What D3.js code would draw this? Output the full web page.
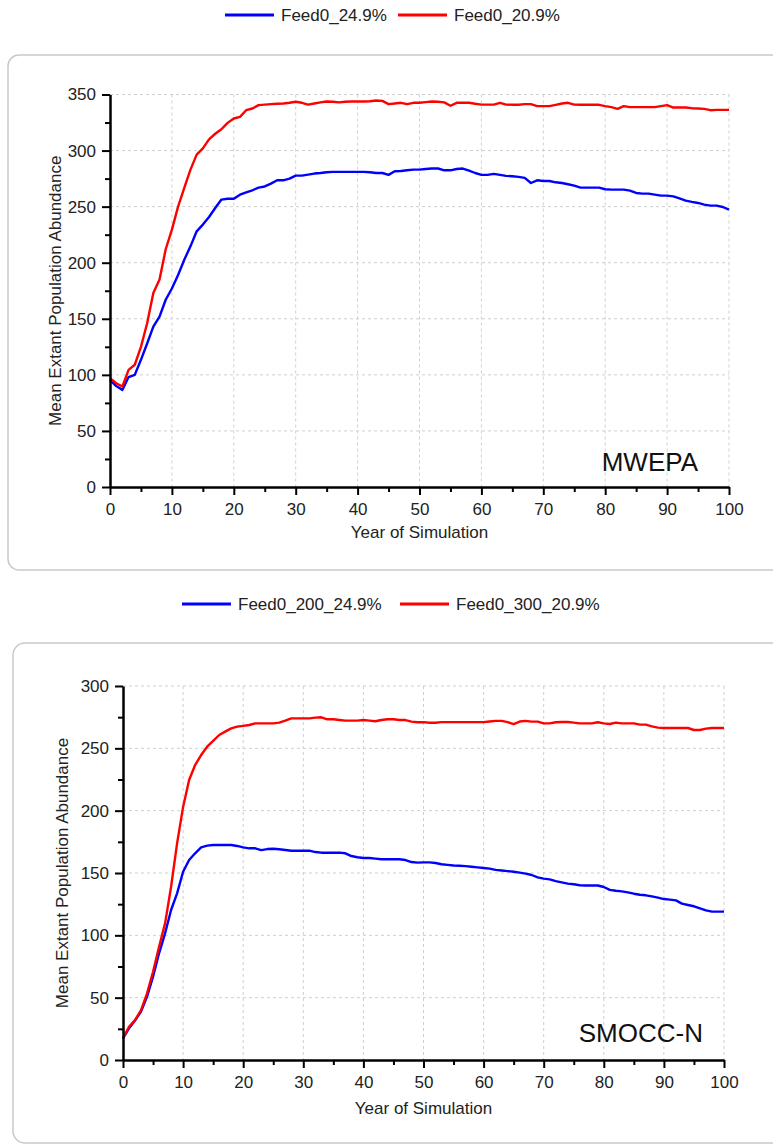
<!DOCTYPE html>
<html>
<head>
<meta charset="utf-8">
<script src="https://cdn.jsdelivr.net/npm/d3@7"></script>
<style>
  body { margin: 0; background: #ffffff; }
  svg { display: block; font-family: "Liberation Sans", Arial, sans-serif; }
</style>
</head>
<body>
<svg id="chart" width="773" height="1145"></svg>
<script>
// Simulation years shown on the x axis
const years = d3.range(0, 101);

// MWEPA scenario: mean extant population abundance per year
const mwepaFeed249 = [
  95.5, 90, 86.6, 98, 100, 113.4, 128, 143, 152, 167,
  177, 189, 202.7, 214.6, 228, 234, 240.8, 248.8, 256.3, 257,
  257, 260.7, 262.8, 264.6, 267, 268, 270.5, 273.5, 273.5, 275,
  277.7, 277.7, 278.6, 279.5, 280, 280.7, 281, 281, 281, 281,
  281, 281, 280.7, 280, 280, 278.3, 281.5, 281.8, 282.4, 283,
  283, 283.6, 284, 284, 282.4, 282.4, 283.6, 284, 282.1, 280,
  278.3, 278.3, 279.2, 278.3, 277.4, 277.1, 276.5, 275.6, 271.1, 273.5,
  272.9, 272.9, 271.7, 271.1, 270, 268.8, 267, 267, 267, 267,
  265.5, 265.2, 265.2, 265.2, 264.3, 262.2, 261.6, 261.6, 260.7, 259.8,
  259.8, 259.2, 257.4, 255.4, 254.2, 253.3, 251.8, 250.9, 250.9, 249.7,
  247.3
];
const mwepaFeed209 = [
  97, 92.5, 89.6, 104.5, 109, 125, 146, 173, 185, 212,
  229.5, 250, 266.7, 283, 296.4, 302, 310, 315, 319, 324.7,
  328.6, 330, 336, 337.5, 340.5, 341, 341.4, 341.7, 342, 342.6,
  343.5, 342.6, 341, 342, 343, 343.8, 343.5, 343, 343.5, 343.8,
  343.8, 343.8, 344, 344.6, 344.3, 341.4, 342, 342.6, 341.4, 342.6,
  342.6, 343.2, 343.8, 343.5, 343, 340, 342.6, 342.6, 342.6, 341.7,
  341, 341, 341, 342.6, 341, 340.8, 340.8, 341.4, 341.4, 339.6,
  339.6, 339.6, 340.8, 342, 342.6, 341, 340.8, 340.8, 341, 340.8,
  339.6, 338.7, 337.2, 339.6, 338.7, 338.7, 338.7, 338.7, 338.7, 339.6,
  340.5, 338.4, 338.4, 338.4, 337.8, 337.5, 337.2, 336, 336.3, 336.3,
  336.3
];

// SMOCC-N scenario
const smoccFeed200 = [
  17.4, 25.4, 31.6, 38.8, 50.8, 66.8, 85.6, 101.6, 120.3, 133.7,
  151, 160.4, 165.8, 170.6, 172, 172.5, 172.5, 172.5, 172.5, 171.7,
  170.6, 169.8, 169.8, 168.4, 169.2, 169.5, 169, 168.4, 167.9, 167.9,
  167.9, 167.9, 166.8, 166.3, 166.3, 166.3, 166.3, 165.8, 163.6, 162.6,
  162, 162, 161.5, 161, 161, 161, 161, 160.4, 158.8, 158.3,
  158.5, 158.5, 158, 157, 156.5, 156, 155.8, 155.5, 155, 154.5,
  154, 153.5, 152.5, 152, 151.5, 151, 150.3, 149.5, 148.4, 146.5,
  145.5, 144.9, 143.5, 142.5, 141.5, 141, 140.2, 140, 140, 140,
  138.8, 136.5, 135.8, 135.3, 134.5, 133.4, 132.6, 132.1, 131.3, 130.2,
  129.1, 128.6, 128, 125.4, 124.3, 123.3, 121.7, 120, 119, 119,
  119
];
const smoccFeed300 = [
  17.4, 26.7, 32, 40, 53.5, 70.8, 90.9, 109.6, 139, 173.8,
  203, 224.6, 236.6, 244.6, 251.3, 256, 260.7, 263.4, 266, 267.4,
  268, 268.7, 270, 270, 270, 270, 270.6, 272.2, 274, 274,
  274, 274, 274.6, 274.9, 273.3, 273.3, 272.7, 272.2, 272.2, 272.2,
  272.7, 272.2, 271.7, 272.7, 273.3, 273.3, 272.7, 272.7, 271.4, 270.9,
  271, 270.5, 270.5, 271, 271, 271, 271, 271, 271, 271,
  271, 271.5, 272, 272, 271, 269.5, 271.5, 272, 271.4, 271.4,
  270, 270, 270.9, 271.1, 271.1, 270.6, 270, 270, 270, 270.9,
  270, 269.5, 270.6, 270, 270, 270, 269, 269, 267.6, 266.6,
  266.3, 266.3, 266.3, 266.3, 266.3, 264.7, 264.7, 265.8, 266.3, 266.3,
  266.3
];

// Axis tick values
const xMajorTicks = [0, 10, 20, 30, 40, 50, 60, 70, 80, 90, 100];
const xMinorTicks = [5, 15, 25, 35, 45, 55, 65, 75, 85, 95];
const mwepaYMajor = [0, 50, 100, 150, 200, 250, 300, 350];
const mwepaYMinor = [25, 75, 125, 175, 225, 275, 325];
const smoccYMajor = [0, 50, 100, 150, 200, 250, 300];
const smoccYMinor = [25, 75, 125, 175, 225, 275];

const seriesNames = {
  mwepa: ["Feed0_24.9%", "Feed0_20.9%"],
  smocc: ["Feed0_200_24.9%", "Feed0_300_20.9%"]
};
const colors = ["#0000ff", "#ff0000"];

const svg = d3.select("#chart");
const textColor = "#222222";

function drawPanel(cfg) {
  const g = svg.append("g");

  // rounded panel frame
  g.append("rect")
    .attr("x", cfg.frame.x).attr("y", cfg.frame.y)
    .attr("width", cfg.frame.w).attr("height", cfg.frame.h)
    .attr("rx", cfg.frame.r).attr("ry", cfg.frame.r)
    .attr("fill", "none").attr("stroke", "#c9c9c9").attr("stroke-width", 1.5);

  // legend
  cfg.legend.forEach((item, i) => {
    g.append("line")
      .attr("x1", item.x).attr("x2", item.x + 49)
      .attr("y1", cfg.legendY).attr("y2", cfg.legendY)
      .attr("stroke", colors[i]).attr("stroke-width", 3);
    g.append("text")
      .attr("x", item.x + 56).attr("y", cfg.legendY + 6)
      .attr("font-size", 17).attr("fill", textColor)
      .text(cfg.names[i]);
  });

  const x = d3.scaleLinear().domain([0, 100]).range([cfg.left, cfg.right]);
  const y = d3.scaleLinear().domain([0, cfg.yMax]).range([cfg.bottom, cfg.top]);

  // dashed grid
  const grid = g.append("g")
    .attr("stroke", "#cfcfcf").attr("stroke-width", 1).attr("stroke-dasharray", "3,3");
  grid.selectAll(".gx").data(xMajorTicks.filter(d => d > 0)).join("line")
    .attr("x1", d => x(d)).attr("x2", d => x(d))
    .attr("y1", cfg.top).attr("y2", cfg.bottom);
  grid.selectAll(".gy").data(cfg.yMajor.filter(d => d > 0)).join("line")
    .attr("x1", cfg.left).attr("x2", cfg.right)
    .attr("y1", d => y(d)).attr("y2", d => y(d));

  // series lines
  const line = d3.line().x((d, i) => x(years[i])).y(d => y(d));
  cfg.series.forEach((vals, i) => {
    g.append("path")
      .datum(vals)
      .attr("d", line)
      .attr("fill", "none")
      .attr("stroke", colors[i])
      .attr("stroke-width", 2.4)
      .attr("stroke-linejoin", "round");
  });

  // axes
  const styleAxis = sel => {
    sel.select(".domain").attr("stroke", "#000").attr("stroke-width", 2.5);
    sel.selectAll(".tick line").attr("stroke", "#000").attr("stroke-width", 2);
    sel.selectAll(".tick text")
      .attr("font-size", 17).attr("fill", textColor)
      .attr("font-family", "'Liberation Sans', Arial, sans-serif");
  };

  const yAxis = g.append("g").attr("transform", `translate(${cfg.left},0)`)
    .call(d3.axisLeft(y).tickValues(cfg.yMajor).tickSize(8).tickSizeOuter(0).tickPadding(6));
  styleAxis(yAxis);
  const yMinor = g.append("g").attr("transform", `translate(${cfg.left},0)`)
    .call(d3.axisLeft(y).tickValues(cfg.yMinor).tickSize(5).tickSizeOuter(0).tickFormat(""));
  yMinor.select(".domain").remove();
  yMinor.selectAll(".tick line").attr("stroke", "#000").attr("stroke-width", 2);

  const xAxis = g.append("g").attr("transform", `translate(0,${cfg.bottom})`)
    .call(d3.axisBottom(x).tickValues(xMajorTicks).tickSize(8).tickSizeOuter(0).tickPadding(8));
  styleAxis(xAxis);
  const xMinor = g.append("g").attr("transform", `translate(0,${cfg.bottom})`)
    .call(d3.axisBottom(x).tickValues(xMinorTicks).tickSize(5).tickSizeOuter(0).tickFormat(""));
  xMinor.select(".domain").remove();
  xMinor.selectAll(".tick line").attr("stroke", "#000").attr("stroke-width", 2);

  // axis titles
  g.append("text")
    .attr("x", (cfg.left + cfg.right) / 2).attr("y", cfg.bottom + cfg.xTitleGap)
    .attr("text-anchor", "middle").attr("font-size", 17).attr("fill", textColor)
    .text("Year of Simulation");
  g.append("text")
    .attr("transform", `translate(${cfg.yTitleX},${(cfg.top + cfg.bottom) / 2}) rotate(-90)`)
    .attr("text-anchor", "middle").attr("font-size", 17).attr("fill", textColor)
    .text("Mean Extant Population Abundance");

  // scenario tag inside the plot
  g.append("text")
    .attr("x", cfg.right - cfg.tag.dx).attr("y", cfg.bottom - cfg.tag.dy)
    .attr("text-anchor", "end").attr("font-size", 26).attr("fill", "#111")
    .text(cfg.tag.text);
}

drawPanel({
  frame: { x: 8, y: 55, w: 800, h: 515, r: 11 },
  legendY: 15,
  legend: [{ x: 225 }, { x: 398 }],
  names: seriesNames.mwepa,
  left: 110, right: 729, top: 94.5, bottom: 487,
  yMax: 350, yMajor: mwepaYMajor, yMinor: mwepaYMinor,
  series: [mwepaFeed249, mwepaFeed209],
  xTitleGap: 51, yTitleX: 61,
  tag: { text: "MWEPA", dx: 31, dy: 16 }
});

drawPanel({
  frame: { x: 13, y: 643, w: 800, h: 500, r: 12 },
  legendY: 604,
  legend: [{ x: 182 }, { x: 400 }],
  names: seriesNames.smocc,
  left: 123, right: 724, top: 686, bottom: 1060,
  yMax: 300, yMajor: smoccYMajor, yMinor: smoccYMinor,
  series: [smoccFeed200, smoccFeed300],
  xTitleGap: 54, yTitleX: 68,
  tag: { text: "SMOCC-N", dx: 21, dy: 18 }
});
</script>
</body>
</html>
